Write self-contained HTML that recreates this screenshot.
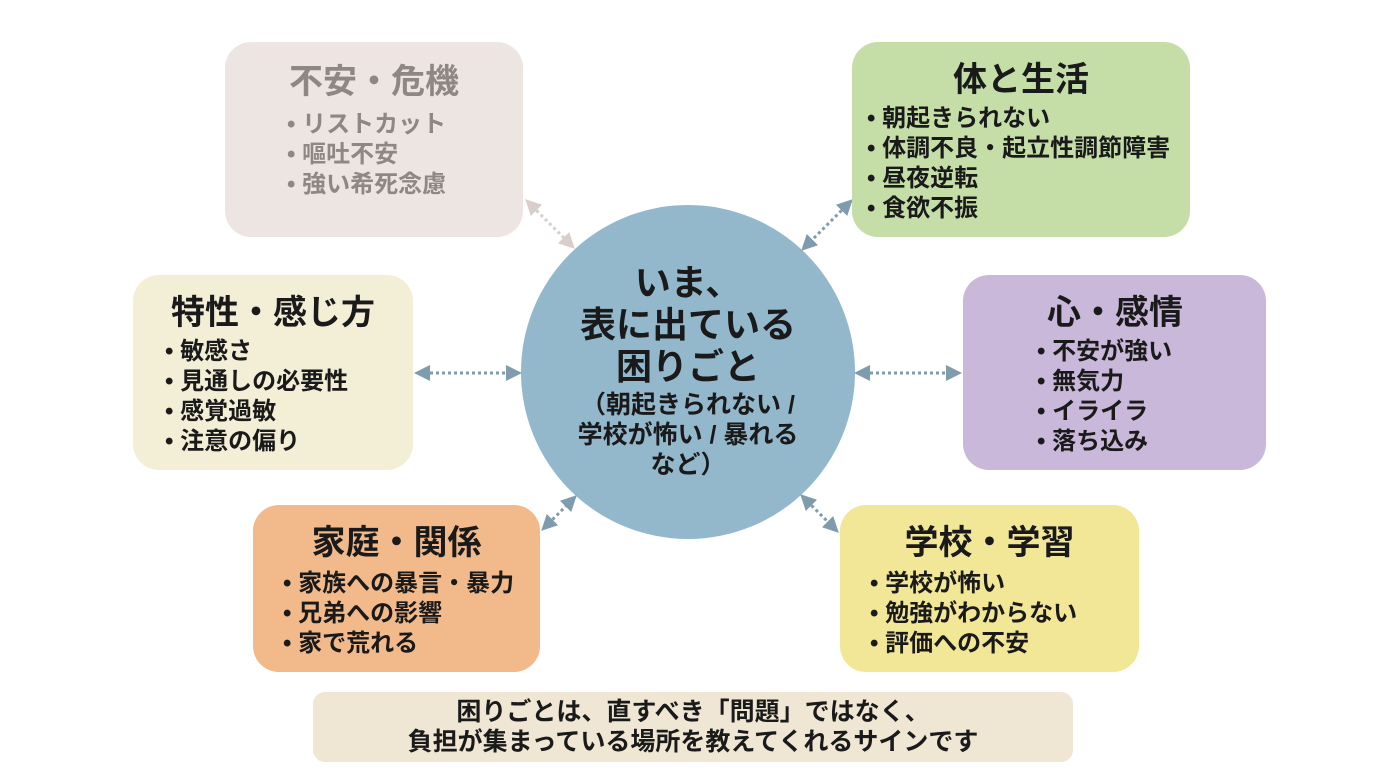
<!DOCTYPE html>
<html><head><meta charset="utf-8"><style>
body{margin:0;width:1376px;height:768px;background:#fff;position:relative;overflow:hidden;font-family:"Liberation Sans","Noto Sans CJK JP",sans-serif;font-weight:bold;color:#1a1a1a}
.b{position:absolute;border-radius:26px;box-sizing:border-box}
.t{font-size:34px;text-align:center;line-height:40px;white-space:nowrap}
ul{margin:0;padding:0;list-style:none;font-size:24px;line-height:30px;white-space:nowrap}
li:before{content:"• ";}
</style></head><body>
<svg width="1376" height="768" style="position:absolute;left:0;top:0">
<defs>
<marker id="g" markerWidth="16" markerHeight="16" refX="12" refY="8" orient="auto-start-reverse" markerUnits="userSpaceOnUse" viewBox="0 0 16 16"><path d="M0,0L16,8L0,16z" fill="#d8cfcb"/></marker>
<marker id="a" markerWidth="16" markerHeight="16" refX="12" refY="8" orient="auto-start-reverse" markerUnits="userSpaceOnUse" viewBox="0 0 16 16"><path d="M0,0L16,8L0,16z" fill="#7f9cae"/></marker></defs>
<circle cx="688" cy="372" r="167" fill="#93b8cc"/>
<g stroke-width="3" stroke-dasharray="3 3" fill="none">
<line x1="528" y1="202" x2="572" y2="246" stroke="#d8cfcb" marker-start="url(#g)" marker-end="url(#g)"/>
<line x1="850" y1="202" x2="804" y2="248" stroke="#7f9cae" marker-start="url(#a)" marker-end="url(#a)"/>
<line x1="418" y1="373" x2="518" y2="373" stroke="#7f9cae" marker-start="url(#a)" marker-end="url(#a)"/>
<line x1="858" y1="373" x2="958" y2="373" stroke="#7f9cae" marker-start="url(#a)" marker-end="url(#a)"/>
<line x1="544" y1="528" x2="574" y2="498" stroke="#7f9cae" marker-start="url(#a)" marker-end="url(#a)"/>
<line x1="803" y1="497" x2="836" y2="530" stroke="#7f9cae" marker-start="url(#a)" marker-end="url(#a)"/>
</g></svg>
<div class="b" style="left:225px;top:42px;width:298px;height:195px;background:#ede5e2;color:#8f8785;padding:20px 0 0 62px"><div class="t" style="width:174px;margin-bottom:8px">不安・危機</div><ul><li>リストカット</li><li>嘔吐不安</li><li>強い希死念慮</li></ul></div>
<div class="b" style="left:852px;top:42px;width:338px;height:195px;background:#c5dea8;padding:18px 0 0 15px"><div class="t" style="width:308px;margin-bottom:4px">体と生活</div><ul><li>朝起きられない</li><li>体調不良・起立性調節障害</li><li>昼夜逆転</li><li>食欲不振</li></ul></div>
<div class="b" style="left:133px;top:275px;width:280px;height:195px;background:#f3eed6;padding:18px 0 0 32px"><div class="t" style="width:216px;margin-bottom:4px">特性・感じ方</div><ul><li>敏感さ</li><li>見通しの必要性</li><li>感覚過敏</li><li>注意の偏り</li></ul></div>
<div class="b" style="left:963px;top:275px;width:303px;height:195px;background:#c9b8d9;padding:18px 0 0 74px"><div class="t" style="width:156px;margin-bottom:4px">心・感情</div><ul><li>不安が強い</li><li>無気力</li><li>イライラ</li><li>落ち込み</li></ul></div>
<div class="b" style="left:253px;top:505px;width:287px;height:167px;background:#f2b98a;padding:18px 0 0 30px"><div class="t" style="width:227px;margin-bottom:6px">家庭・関係</div><ul><li>家族への暴言・暴力</li><li>兄弟への影響</li><li>家で荒れる</li></ul></div>
<div class="b" style="left:840px;top:505px;width:299px;height:167px;background:#f2e697;padding:18px 0 0 30px"><div class="t" style="width:239px;margin-bottom:6px">学校・学習</div><ul><li>学校が怖い</li><li>勉強がわからない</li><li>評価への不安</li></ul></div>
<div style="position:absolute;left:521px;top:262px;width:334px;text-align:center">
<div style="font-size:36px;line-height:42px">いま、<br>表に出ている<br>困りごと</div>
<div style="font-size:25px;line-height:30px;margin-top:2px;white-space:nowrap">（朝起きられない /<br>学校が怖い / 暴れる<br>など）</div></div>
<div class="b" style="left:313px;top:692px;width:760px;height:70px;border-radius:12px;background:#efe6d4;text-align:center;font-size:25px;line-height:30px;padding-top:5px">困りごとは、直すべき「問題」ではなく、<br>負担が集まっている場所を教えてくれるサインです</div>
</body></html>
